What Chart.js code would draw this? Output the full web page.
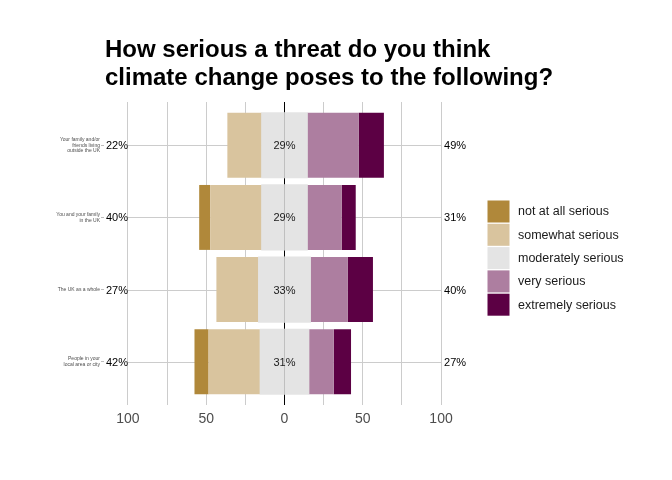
<!DOCTYPE html>
<html><head><meta charset="utf-8">
<script src="https://cdn.jsdelivr.net/npm/chart.js@4/dist/chart.umd.min.js"></script>
<style>html,body{margin:0;padding:0;background:#fff}#wrap{width:672px;height:480px;position:relative}canvas{display:block}</style>
</head><body><div id="wrap"><canvas id="c" width="672" height="480" style="width:672px;height:480px"></canvas></div>
<script>
const title = ["How serious a threat do you think", "climate change poses to the following?"];
const categories = [["Your family and/or","friends living","outside the UK"],["You and your family","in the UK"],["The UK as a whole"],["People in your","local area or city"]];
const levels = ["not at all serious","somewhat serious","moderately serious","very serious","extremely serious"];
const notAtAll   = [0, 7, 0, 9];
const somewhat   = [22, 33, 27, 33];
const moderately = [29, 29, 33, 31];
const very       = [33, 22, 24, 16];
const extremely  = [16, 9, 16, 11];
const leftPct   = ["22%","40%","27%","42%"];
const centerPct = ["29%","29%","33%","31%"];
const rightPct  = ["49%","31%","40%","27%"];
const xTicks = [-100,-75,-50,-25,0,25,50,75,100];
const colors = ["#B0883A","#D9C49E","#E4E4E4","#AD7EA0","#5C0044"];
const FONT = "'Liberation Sans', Arial, sans-serif";

const rows = categories.map((_, i) => i + 1);
const mk = (arr, sign, half) => arr.map((v, i) => ({ y: rows[i], x: sign * (half ? v / 2 : v) }));

const datasets = [
  { label: levels[2], data: mk(moderately, -1, true), backgroundColor: colors[2], inflateAmount: 0.6 },
  { label: levels[1], data: mk(somewhat, -1, false), backgroundColor: colors[1] },
  { label: levels[0], data: mk(notAtAll, -1, false), backgroundColor: colors[0] },
  { label: levels[2], data: mk(moderately, 1, true), backgroundColor: colors[2], inflateAmount: 0.6 },
  { label: levels[3], data: mk(very, 1, false), backgroundColor: colors[3] },
  { label: levels[4], data: mk(extremely, 1, false), backgroundColor: colors[4] }
].map(d => Object.assign(d, { borderWidth: 0, barPercentage: 0.9, categoryPercentage: 1.0, stack: 'all' }));

const hGrid = {
  id: 'hGrid',
  beforeDatasetsDraw(chart) {
    const { ctx, scales: { x, y } } = chart;
    ctx.save();
    ctx.strokeStyle = '#cccccc';
    ctx.lineWidth = 1;
    rows.forEach(r => {
      const py = Math.round(y.getPixelForValue(r)) + 0.5;
      ctx.beginPath();
      ctx.moveTo(x.getPixelForValue(-100), py);
      ctx.lineTo(x.getPixelForValue(100), py);
      ctx.stroke();
    });
    ctx.restore();
  }
};

const labelsPlugin = {
  id: 'pctLabels',
  afterDatasetsDraw(chart) {
    const { ctx, scales: { x, y } } = chart;
    ctx.save();
    ctx.font = "11px " + FONT;
    ctx.fillStyle = '#000';
    ctx.textBaseline = 'middle';
    rows.forEach((r, i) => {
      const py = y.getPixelForValue(r) + 1;
      ctx.textAlign = 'right';
      ctx.fillText(leftPct[i], x.getPixelForValue(-100), py);
      ctx.textAlign = 'center';
      ctx.fillStyle = '#1a1a1a';
      ctx.fillText(centerPct[i], x.getPixelForValue(0), py);
      ctx.fillStyle = '#000';
      ctx.textAlign = 'left';
      ctx.fillText(rightPct[i], x.getPixelForValue(100) + 3, py);
    });
    ctx.restore();
  }
};

const decor = {
  id: 'decor',
  afterDraw(chart) {
    const { ctx } = chart;
    ctx.save();
    ctx.fillStyle = '#000';
    ctx.font = "bold 24px " + FONT;
    ctx.textAlign = 'left';
    ctx.textBaseline = 'alphabetic';
    ctx.fillText(title[0], 105, 57);
    ctx.fillText(title[1], 105, 85);
    // legend
    const order = [0, 1, 2, 3, 4];
    ctx.font = "12.5px " + FONT;
    ctx.textBaseline = 'middle';
    order.forEach((k, j) => {
      const top = 200.5 + j * 23.3;
      ctx.fillStyle = colors[k];
      ctx.fillRect(487.5, top, 22, 22);
      ctx.fillStyle = '#1a1a1a';
      ctx.fillText(levels[k], 518, top + 11.5);
    });
    ctx.restore();
  }
};

new Chart(document.getElementById('c'), {
  type: 'bar',
  data: { datasets },
  plugins: [hGrid, labelsPlugin, decor],
  options: {
    indexAxis: 'y',
    responsive: false,
    animation: false,
    devicePixelRatio: 1,
    layout: { padding: { top: 102, right: 207, bottom: 45, left: 0 } },
    plugins: { legend: { display: false }, tooltip: { enabled: false }, title: { display: false } },
    scales: {
      x: {
        type: 'linear',
        min: -115.3, max: 115.3,
        stacked: true,
        offset: false,
        afterBuildTicks: s => { s.ticks = xTicks.map(v => ({ value: v })); },
        afterFit: s => { s.height = 30; },
        border: { display: false },
        grid: {
          offset: false,
          drawTicks: false,
          lineWidth: 1,
          color: c => (c.tick && c.tick.value === 0) ? '#000000' : '#cccccc'
        },
        ticks: {
          padding: 6,
          color: '#4d4d4d',
          font: { family: FONT, size: 14 },
          maxRotation: 0,
          autoSkip: false,
          callback: v => (v % 50 === 0 ? String(Math.abs(v)) : '')
        }
      },
      y: {
        type: 'linear',
        min: 0.4, max: 4.6,
        reverse: true,
        stacked: true,
        offset: false,
        afterBuildTicks: s => { s.ticks = rows.map(v => ({ value: v })); },
        afterFit: s => { s.width = 104; },
        border: { display: false },
        grid: { offset: false, drawOnChartArea: false, drawTicks: true, tickLength: 3, color: '#bdbdbd' },
        ticks: {
          padding: 1,
          color: '#4d4d4d',
          autoSkip: false,
          font: { family: FONT, size: 5, lineHeight: 1.15 },
          callback: v => categories[v - 1] || ''
        }
      }
    }
  }
});
</script>
</body></html>
